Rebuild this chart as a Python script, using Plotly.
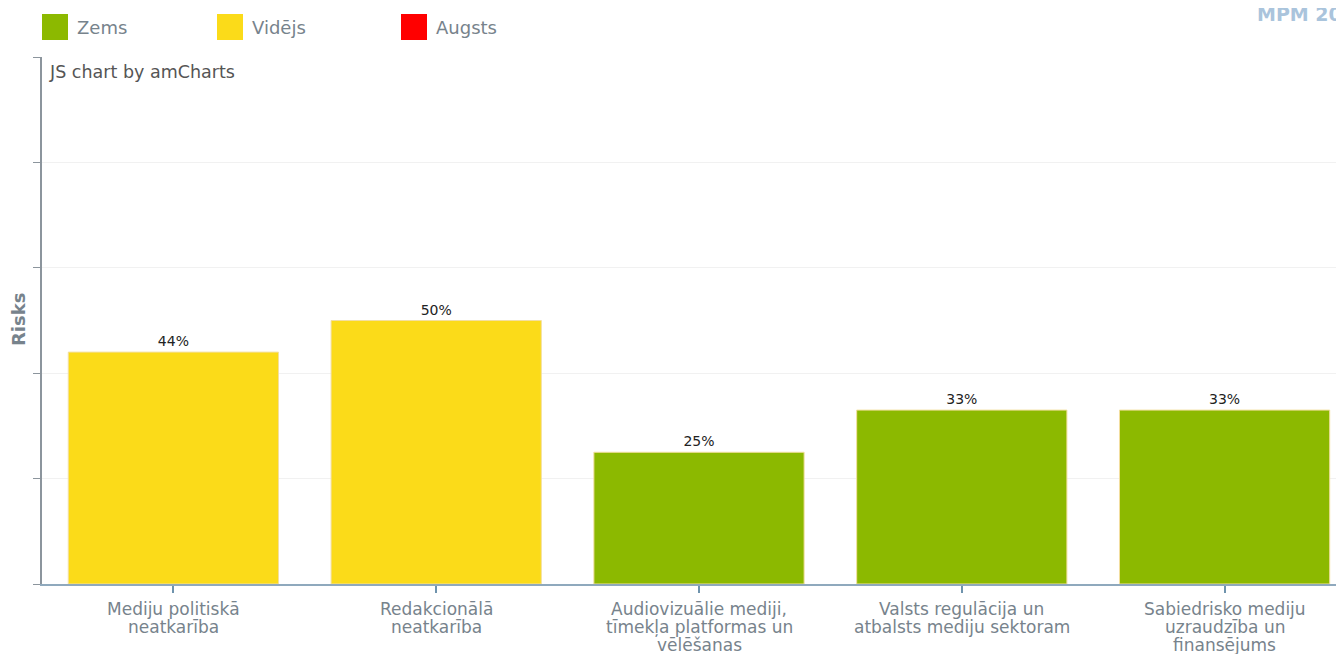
import plotly.graph_objects as go

categories = [
    "Mediju politiskā<br>neatkarība",
    "Redakcionālā<br>neatkarība",
    "Audiovizuālie mediji,<br>tīmekļa platformas un<br>vēlēšanas",
    "Valsts regulācija un<br>atbalsts mediju sektoram",
    "Sabiedrisko mediju<br>uzraudzība un<br>finansējums",
]
values = [44, 50, 25, 33, 33]
risk_levels = ["Vidējs", "Vidējs", "Zems", "Zems", "Zems"]
legend_labels = ["Zems", "Vidējs", "Augsts"]
legend_colors = ["#8cb900", "#fbdb19", "#ff0000"]
color_map = dict(zip(legend_labels, legend_colors))

OFF = 8                      # default page body margin
W, H = 1344 - OFF, 654 - OFF
L, R, T, B = 42 - OFF, 0, 57 - OFF, 70
FONT = "DejaVu Sans"
GRAY = "#77838c"
plot_w = W - L - R
plot_h = H - T - B


def px(xr):
    return (xr - OFF - L) / plot_w


def py(yr):
    return (H - B - (yr - OFF)) / plot_h


fig = go.Figure()
fig.add_trace(go.Bar(
    x=list(range(len(categories))),
    y=values,
    marker=dict(color=[color_map[r] for r in risk_levels],
                line=dict(color="#f3dfa0", width=1)),
    width=0.8,
    text=[f"{v}%" for v in values],
    textposition="outside",
    textfont=dict(family=FONT, size=14, color="#222222"),
    cliponaxis=False,
    showlegend=False,
    hoverinfo="skip",
))

shapes = []
annotations = []
legend_x = [42, 217, 401]
for lx, lab, col in zip(legend_x, legend_labels, legend_colors):
    shapes.append(dict(type="rect", xref="paper", yref="paper",
                       x0=px(lx), x1=px(lx + 26), y0=py(40), y1=py(14),
                       fillcolor=col, line=dict(width=0)))
    annotations.append(dict(text=lab, xref="paper", yref="paper",
                            x=px(lx + 33), y=py(27),
                            xanchor="left", yanchor="middle", showarrow=False,
                            font=dict(family=FONT, size=18, color=GRAY)))

# category labels, one annotation per line for tight line spacing
for i, cat in enumerate(categories):
    for j, line in enumerate(cat.split("<br>")):
        annotations.append(dict(text=line, xref="x", yref="paper",
                                x=i, y=0, yanchor="middle", xanchor="center",
                                yshift=-(25 + 18 * j), showarrow=False,
                                font=dict(family=FONT, size=17, color=GRAY)))

annotations.append(dict(text="JS chart by amCharts", xref="paper", yref="paper",
                        x=px(47), y=py(72),
                        xanchor="left", yanchor="middle", showarrow=False,
                        font=dict(family=FONT, size=17.5, color="#555555")))
annotations.append(dict(text="<b>Risks</b>", xref="paper", yref="paper",
                        x=px(18), y=py(320),
                        xanchor="center", yanchor="middle", textangle=-90,
                        showarrow=False,
                        font=dict(family=FONT, size=18, color=GRAY)))
annotations.append(dict(text="<b>MPM 2023</b>", xref="paper", yref="paper",
                        x=px(1255), y=py(14),
                        xanchor="left", yanchor="middle", showarrow=False,
                        font=dict(family=FONT, size=19, color="#aac4dc")))

last_edge = 4.5 - (1356 - 1344) / 263.0
fig.update_layout(
    width=W, height=H,
    margin=dict(l=L, r=R, t=T, b=B, pad=0),
    paper_bgcolor="white", plot_bgcolor="white",
    font=dict(family=FONT, color=GRAY),
    shapes=shapes,
    annotations=annotations,
    xaxis=dict(
        range=[-0.5, last_edge],
        tickmode="array",
        tickvals=list(range(len(categories))),
        ticktext=categories,
        showticklabels=False,
        tickson="boundaries",
        ticks="outside", ticklen=7, tickcolor="#6f93ad", tickwidth=1.5,
        showline=True, linecolor="#8fa9bd", linewidth=1.5,
        showgrid=False, zeroline=False,
        fixedrange=True,
    ),
    yaxis=dict(
        range=[0, 100], dtick=20,
        showticklabels=False,
        ticks="outside", ticklen=7, tickcolor="#8c959d",
        showline=True, linecolor="#8c959d", linewidth=1.5,
        showgrid=True, gridcolor="#f1f1f1", gridwidth=1,
        zeroline=False,
        layer="above traces",
        fixedrange=True,
    ),
)

fig.write_html("out.html")
